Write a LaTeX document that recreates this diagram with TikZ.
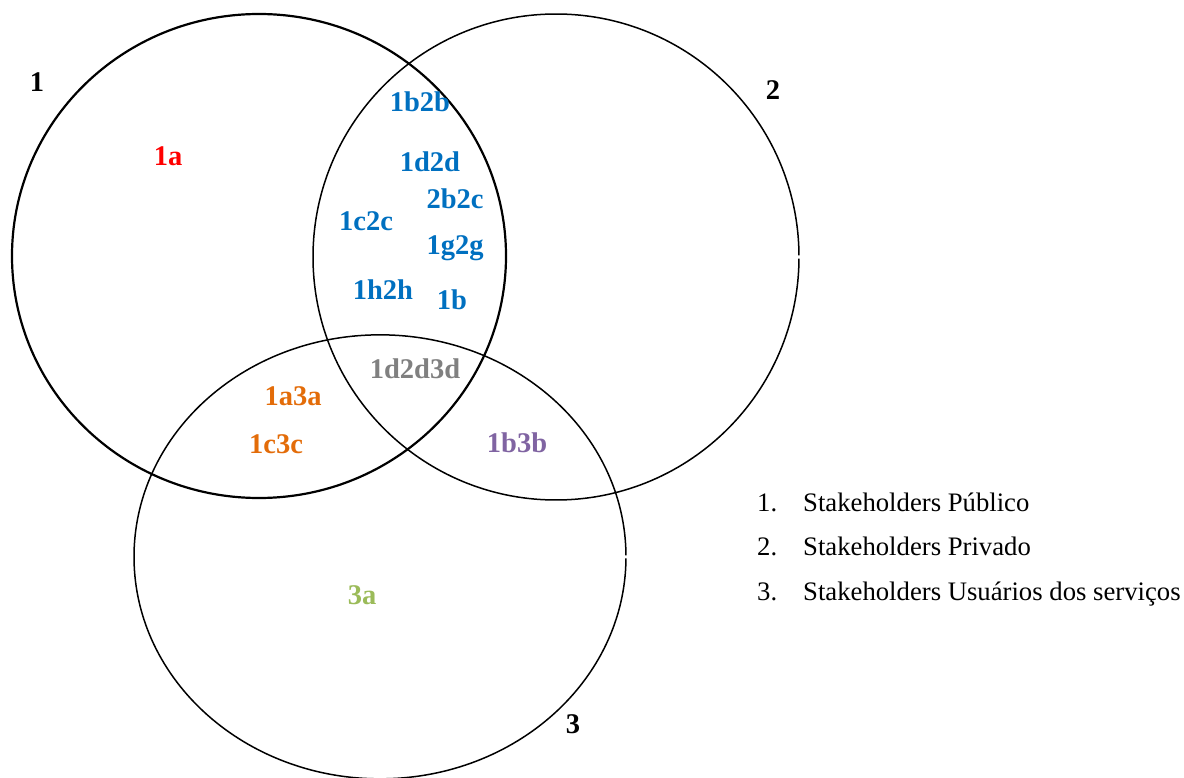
\documentclass[tikz,border=0pt]{standalone}
\usepackage{fontspec}
\setmainfont{Liberation Serif}
\definecolor{cblue}{HTML}{0070C0}
\definecolor{cred}{HTML}{FF0000}
\definecolor{corange}{HTML}{E36C09}
\definecolor{cgray}{HTML}{808080}
\definecolor{cpurple}{HTML}{8064A2}
\definecolor{cgreen}{HTML}{9BBB59}
\tikzset{
  setA/.style={draw=black, line width=2.2pt},
  setB/.style={draw=black, line width=1.5pt},
  lbl/.style={font=\fontsize{28.5}{30}\selectfont\bfseries, anchor=base, inner sep=0pt},
  leg/.style={font=\fontsize{26.7}{28}\selectfont, anchor=base west, inner sep=0pt},
}
\begin{document}
\begin{tikzpicture}[x=1pt, y=-1pt]
\useasboundingbox (0,0) rectangle (1184,778);
% circles
\draw[setA] (259,256) ellipse [x radius=247pt, y radius=242pt];
\draw[setB] (556,257) ++(0.4:243pt) arc [start angle=0.4, end angle=359.6, x radius=243pt, y radius=243pt];
\draw[setB] (380,557) ++(0.4:246pt) arc [start angle=0.4, end angle=359.6, x radius=246pt, y radius=222pt];
% set numbers
\node[lbl] (n1) at (37,92) {1};
\node[lbl] (n2) at (773,100) {2};
\node[lbl] (n3) at (573,733) {3};
% region labels
\node[lbl, text=cred] (l1a) at (168,166) {1a};
\node[lbl, text=cblue] (l1b2b) at (420,112) {1b2b};
\node[lbl, text=cblue] (l1d2d) at (430,172) {1d2d};
\node[lbl, text=cblue] (l2b2c) at (455,209) {2b2c};
\node[lbl, text=cblue] (l1c2c) at (366,231) {1c2c};
\node[lbl, text=cblue] (l1g2g) at (455,255) {1g2g};
\node[lbl, text=cblue] (l1h2h) at (383,299) {1h2h};
\node[lbl, text=cblue] (l1b) at (452,309) {1b};
\node[lbl, text=cgray] (l1d2d3d) at (415,378) {1d2d3d};
\node[lbl, text=corange] (l1a3a) at (293,405) {1a3a};
\node[lbl, text=corange] (l1c3c) at (276,453) {1c3c};
\node[lbl, text=cpurple] (l1b3b) at (517,452) {1b3b};
\node[lbl, text=cgreen] (l3a) at (362,604) {3a};
% legend
\node[leg] (k1) at (757,511) {1.};
\node[leg] (t1) at (803,511) {Stakeholders Público};
\node[leg] (k2) at (757,555) {2.};
\node[leg] (t2) at (803,555) {Stakeholders Privado};
\node[leg] (k3) at (757,600) {3.};
\node[leg] (t3) at (803,600) {Stakeholders Usuários dos serviços};
\end{tikzpicture}
\end{document}
